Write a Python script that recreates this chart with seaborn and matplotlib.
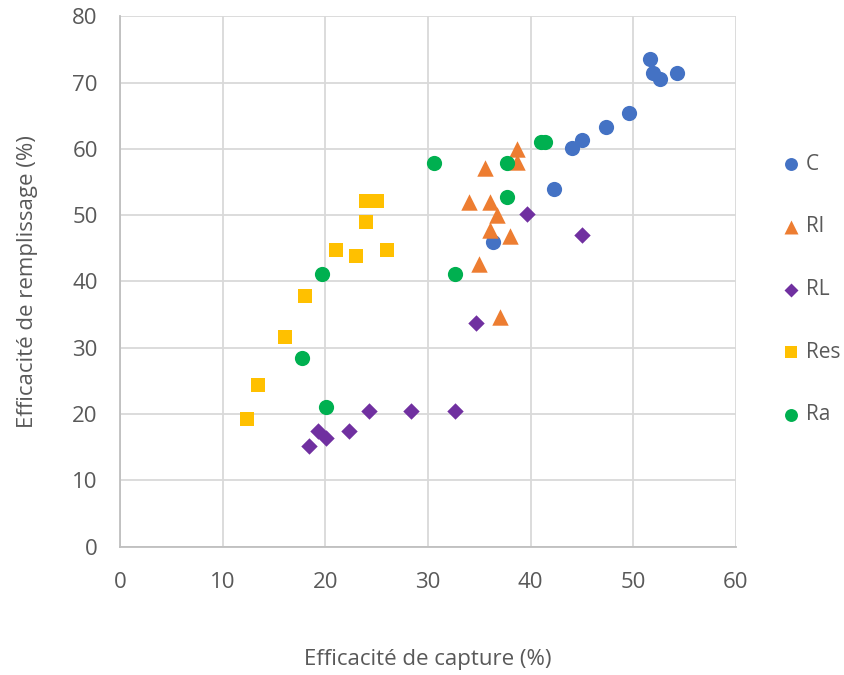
import matplotlib
matplotlib.use("Agg")
import matplotlib.pyplot as plt
import seaborn as sns
import pandas as pd

# valeurs
c_x = [51.6, 51.9, 52.6, 54.3, 49.6, 47.3, 45.0, 44.0, 42.3, 36.3]
c_y = [73.6, 71.5, 70.5, 71.5, 65.4, 63.3, 61.3, 60.2, 54.0, 46.0]

rl_x = [38.7, 38.7, 35.6, 34.0, 36.0, 36.7, 36.0, 38.0, 35.0, 37.0]
rl_y = [60.0, 58.0, 57.1, 52.0, 52.0, 50.0, 47.8, 46.8, 42.7, 34.7]

rL_x = [39.6, 45.0, 34.7, 24.3, 28.3, 32.6, 22.3, 19.3, 20.1, 18.4]
rL_y = [50.1, 47.0, 33.7, 20.4, 20.4, 20.4, 17.4, 17.4, 16.4, 15.2]

res_x = [24.0, 25.0, 24.0, 21.0, 23.0, 26.0, 18.0, 16.1, 13.4, 12.4]
res_y = [52.1, 52.1, 49.0, 44.8, 43.9, 44.8, 37.8, 31.6, 24.4, 19.3]

ra_x = [30.6, 37.7, 41.0, 41.4, 37.7, 32.6, 19.7, 17.7, 20.1]
ra_y = [57.9, 57.9, 61.0, 61.0, 52.7, 41.1, 41.1, 28.4, 21.0]

series = ["C", "Rl", "RL", "Res", "Ra"]
couleurs = ["#4472C4", "#ED7D31", "#7030A0", "#FFC000", "#00B050"]
marqueurs = ["o", "^", "D", "s", "o"]

frames = []
for nom, xs, ys in zip(series, [c_x, rl_x, rL_x, res_x, ra_x], [c_y, rl_y, rL_y, res_y, ra_y]):
    frames.append(pd.DataFrame({"x": xs, "y": ys, "serie": nom}))
df = pd.concat(frames, ignore_index=True)

sns.set_style("white")
plt.rcParams["font.family"] = ["Open Sans", "DejaVu Sans"]

fig = plt.figure(figsize=(8.45, 6.75), dpi=100)
ax = fig.add_axes([0.142, 0.19, 0.729, 0.786])

tailles = {"C": 120, "Rl": 140, "RL": 70, "Res": 115, "Ra": 120}
for nom, col, m in zip(series, couleurs, marqueurs):
    sub = df[df["serie"] == nom]
    sns.scatterplot(data=sub, x="x", y="y", color=col, marker=m, s=tailles[nom],
                    linewidth=0, ax=ax, label=nom, zorder=3)

ax.set_xlim(0, 60)
ax.set_ylim(0, 80)
ax.set_xticks(range(0, 61, 10))
ax.set_yticks(range(0, 81, 10))
ax.grid(True, color="#D9D9D9", linewidth=1.3, zorder=0)
ax.set_axisbelow(True)
for s in ["top", "right"]:
    ax.spines[s].set_visible(False)
for s in ["left", "bottom"]:
    ax.spines[s].set_color("#BFBFBF")
    ax.spines[s].set_linewidth(1.3)
ax.tick_params(axis="both", length=0, labelsize=16, labelcolor="#595959")
ax.tick_params(axis="x", pad=18)
ax.tick_params(axis="y", pad=16)

ax.set_xlabel("Efficacité de capture (%)", fontsize=16, color="#595959", va="center")
ax.set_ylabel("Efficacité de remplissage (%)", fontsize=16, color="#595959", va="center")
ax.xaxis.set_label_coords(0.5, -0.213)
ax.yaxis.set_label_coords(-0.15, 0.5)

leg = ax.legend(loc="upper left", bbox_to_anchor=(1.042, 0.776), frameon=False,
                fontsize=15, labelspacing=2.0, handlelength=1.0, handletextpad=0.2,
                markerscale=0.85)
for t in leg.get_texts():
    t.set_color("#595959")

fig.savefig("out.png", dpi=100)
